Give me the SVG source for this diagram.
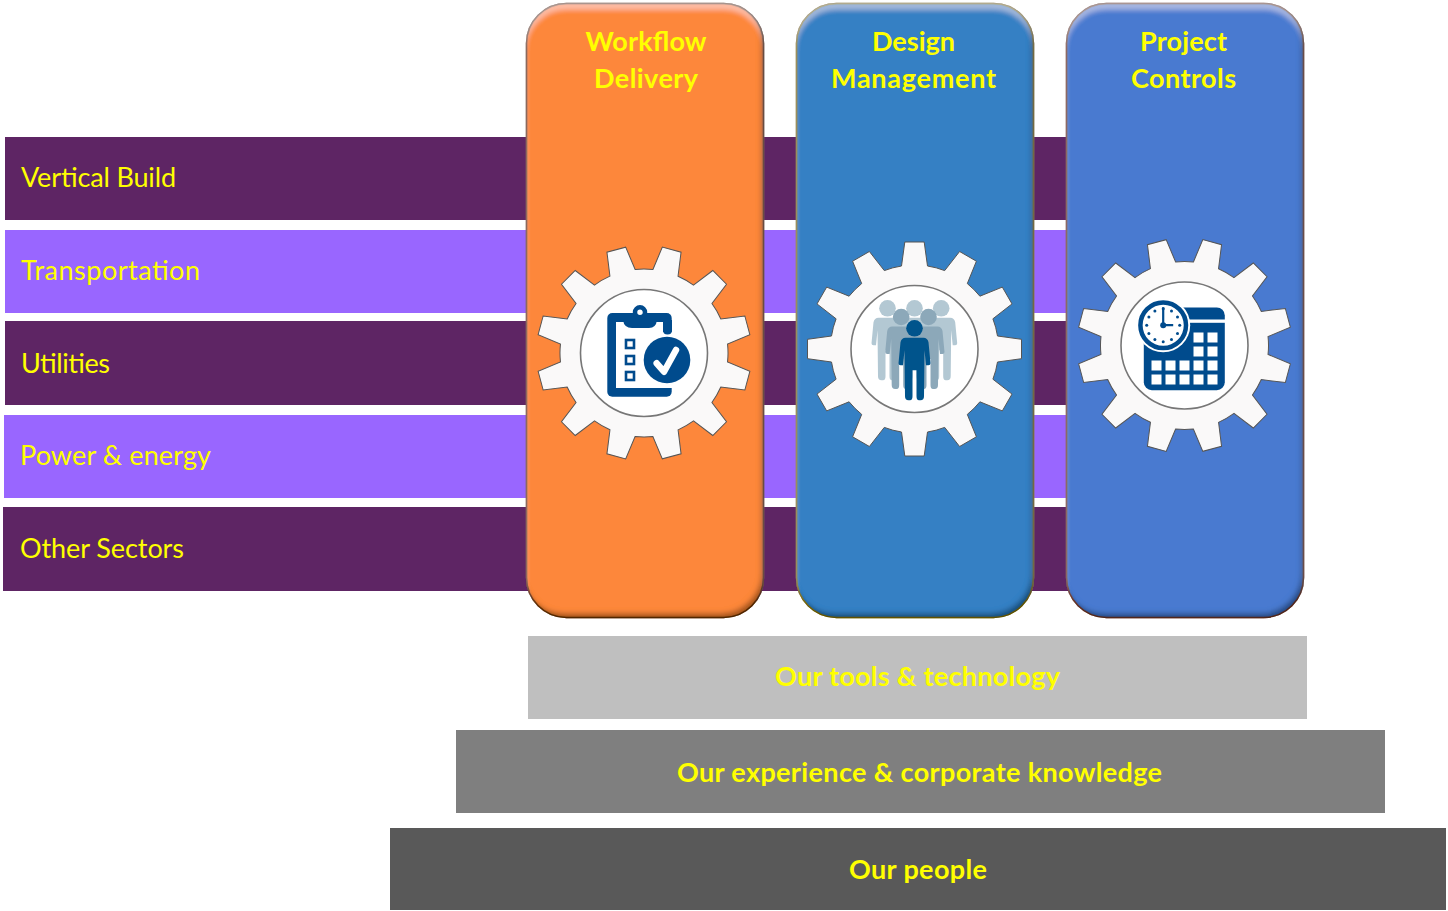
<svg xmlns="http://www.w3.org/2000/svg" xmlns:xlink="http://www.w3.org/1999/xlink" width="1448" height="911" viewBox="0 0 1448 911">
<style>
.lbl{font-family:"Lato","Liberation Sans",sans-serif;fill:#FFFF00;font-size:27px}
.ttl{font-family:"Lato","Liberation Sans",sans-serif;fill:#FFFF00;font-size:27px;font-weight:700;text-anchor:middle}
.dk{fill:#5E2564}.lt{fill:#9966FF}
.gear{fill:#FAF9F9;stroke:#555;stroke-width:1}
.hub{fill:#fff;stroke:#777;stroke-width:1.6}
.ib{fill:#004B8D}
.w{fill:#fff}
</style>
<defs>
<filter id="bevel" x="-5%" y="-5%" width="110%" height="110%">
<feGaussianBlur in="SourceAlpha" stdDeviation="2.5" result="b"/>
<feOffset in="b" dx="-3" dy="-5" result="o1"/>
<feComposite in="SourceAlpha" in2="o1" operator="out" result="e1"/>
<feFlood flood-color="#000" flood-opacity=".6"/>
<feComposite in2="e1" operator="in" result="dark"/>
<feGaussianBlur in="SourceAlpha" stdDeviation="1.5" result="b2"/>
<feComposite in="SourceAlpha" in2="b2" operator="out" result="e3"/>
<feFlood flood-color="#000" flood-opacity=".7"/>
<feComposite in2="e3" operator="in" result="rim"/>
<feOffset in="b" dx="0" dy="7" result="o2"/>
<feComposite in="SourceAlpha" in2="o2" operator="out" result="e2"/>
<feFlood flood-color="#fff" flood-opacity=".35"/>
<feComposite in2="e2" operator="in" result="light"/>
<feMerge><feMergeNode in="SourceGraphic"/><feMergeNode in="light"/><feMergeNode in="dark"/><feMergeNode in="rim"/></feMerge>
</filter>
<path id="cog" class="gear" d="M-13,-83 L-9.7,-107 L9.7,-107 L13,-83 A84 84 0 0 1 30.2,-78.4 L45.1,-97.5 L61.9,-87.8 L52.8,-65.4 A84 84 0 0 1 65.4,-52.8 L87.8,-61.9 L97.5,-45.1 L78.4,-30.2 A84 84 0 0 1 83,-13 L107,-9.7 L107,9.7 L83,13 A84 84 0 0 1 78.4,30.2 L97.5,45.1 L87.8,61.9 L65.4,52.8 A84 84 0 0 1 52.8,65.4 L61.9,87.8 L45.1,97.5 L30.2,78.4 A84 84 0 0 1 13,83 L9.7,107 L-9.7,107 L-13,83 A84 84 0 0 1 -30.2,78.4 L-45.1,97.5 L-61.9,87.8 L-52.8,65.4 A84 84 0 0 1 -65.4,52.8 L-87.8,61.9 L-97.5,45.1 L-78.4,30.2 A84 84 0 0 1 -83,13 L-107,9.7 L-107,-9.7 L-83,-13 A84 84 0 0 1 -78.4,-30.2 L-97.5,-45.1 L-87.8,-61.9 L-65.4,-52.8 A84 84 0 0 1 -52.8,-65.4 L-61.9,-87.8 L-45.1,-97.5 L-30.2,-78.4 A84 84 0 0 1 -13,-83 Z"/>
<g id="person"><circle r="8.3"/><path d="M-9,9.5 H9 Q13,9.5 14,14 L16,35 Q16,37 14,37 L11.5,37 L10,22 L9.5,68 Q9.5,72 6,72 H4.5 Q2,72 2,68 V42 H-2 V68 Q-2,72 -4.500,72 H-6 Q-9.5,72 -9.5,68 L-10,22 L-11.5,37 H-14 Q-16,37 -16,35 L-14,14 Q-13,9.5 -9,9.5Z"/></g>
</defs>

<g id="band-vertical-build"><rect class="dk" x="5" y="137" width="1065" height="83"/><text class="lbl" x="21" y="187" textLength="155">Vertical Build</text></g>
<g id="band-transportation"><rect class="lt" x="5" y="230" width="1065" height="83"/><text class="lbl" x="21" y="280" textLength="179">Transportation</text></g>
<g id="band-utilities"><rect class="dk" x="5" y="321" width="1065" height="84"/><text class="lbl" x="21" y="373" textLength="89">Utilities</text></g>
<g id="band-power"><rect class="lt" x="4" y="415" width="1066" height="83"/><text class="lbl" x="20" y="465" textLength="191">Power &amp; energy</text></g>
<g id="band-other"><rect class="dk" x="3" y="507" width="1067" height="84"/><text class="lbl" x="20" y="558" textLength="164">Other Sectors</text></g>

<g id="column-workflow">
<rect x="526.500" y="3.500" width="237" height="614" rx="40" fill="#FD873B" stroke="#8A4A1C" stroke-width="1.500" filter="url(#bevel)"/>
<text class="ttl" x="646" y="51" textLength="121">Workflow</text>
<text class="ttl" x="646" y="88" textLength="104">Delivery</text>
<g transform="translate(644,353)">
<use xlink:href="#cog" href="#cog" transform="rotate(15)"/>
<circle class="hub" r="63.500"/>
<rect class="ib" x="-36.700" y="-40" width="64.400" height="83.700" rx="5"/>
<path class="w" d="M-28,-31 H19 V-21 H28 V35 H-28Z"/>
<path class="ib" d="M-21,-33 Q-20,-25 -12,-25 H5 Q12,-25 13,-33Z"/>
<path d="M19,-33 H28 V-23 Q28,-18.500 23.500,-18.500 Q19,-18.500 19,-23Z" class="ib"/>
<circle cx="-4" cy="-40.700" r="5" class="w" stroke="#004B8D" stroke-width="4.500"/>
<rect x="-18" y="-13" width="8" height="8" fill="#fff" stroke="#004B8D" stroke-width="2.600"/>
<rect x="-18" y="3" width="8" height="8" fill="#fff" stroke="#004B8D" stroke-width="2.600"/>
<rect x="-18" y="19" width="8" height="8" fill="#fff" stroke="#004B8D" stroke-width="2.600"/>
<circle class="ib" cx="23" cy="7" r="23.300"/>
<polyline points="12.700,10.300 20,18.700 32,-3" fill="none" stroke="#fff" stroke-width="6.500" stroke-linecap="round" stroke-linejoin="round"/>
</g>
</g>

<g id="column-design">
<rect x="796.500" y="3.500" width="237" height="614" rx="40" fill="#3580C4" stroke="#A08C1E" stroke-width="1.500" filter="url(#bevel)"/>
<text class="ttl" x="913.500" y="51" textLength="83">Design</text>
<text class="ttl" x="913.500" y="88" textLength="165">Management</text>
<g transform="translate(914.500,349)">
<use xlink:href="#cog" href="#cog"/>
<circle class="hub" r="63.500"/>
<g fill="#B3C8D3"><use xlink:href="#person" href="#person" x="-27" y="-40.700"/><use xlink:href="#person" href="#person" x="0" y="-40.700"/><use xlink:href="#person" href="#person" x="26.700" y="-40.700"/></g>
<g fill="#8CA8B9"><use xlink:href="#person" href="#person" x="-13.300" y="-32"/><use xlink:href="#person" href="#person" x="14" y="-32"/></g>
<g fill="#00548C"><use xlink:href="#person" href="#person" x="0" y="-20.700"/></g>
</g>
</g>

<g id="column-project">
<rect x="1066.500" y="3.500" width="237" height="614" rx="40" fill="#4A7AD0" stroke="#8A4A3A" stroke-width="1.500" filter="url(#bevel)"/>
<text class="ttl" x="1183.500" y="51" textLength="87">Project</text>
<text class="ttl" x="1183.500" y="88" textLength="105">Controls</text>
<g transform="translate(1184.500,345.500)">
<use xlink:href="#cog" href="#cog" transform="rotate(15)"/>
<circle class="hub" r="63.500"/>
<rect class="ib" x="-40.700" y="-38" width="81" height="82.700" rx="8"/>
<rect class="w" x="-7" y="-26" width="48" height="3.300"/>
<g class="w">
<rect x="9" y="-13" width="10" height="10"/><rect x="23" y="-13" width="10" height="10"/>
<rect x="9" y="1" width="10" height="10"/><rect x="23" y="1" width="10" height="10"/>
<rect x="-33" y="15" width="10" height="10"/><rect x="-19" y="15" width="10" height="10"/><rect x="-5" y="15" width="10" height="10"/><rect x="9" y="15" width="10" height="10"/><rect x="23" y="15" width="10" height="10"/>
<rect x="-33" y="29" width="10" height="10"/><rect x="-19" y="29" width="10" height="10"/><rect x="-5" y="29" width="10" height="10"/><rect x="9" y="29" width="10" height="10"/><rect x="23" y="29" width="10" height="10"/>
</g>
<circle cx="-21.300" cy="-20.300" r="27" fill="#fff"/>
<circle cx="-21.300" cy="-20.300" r="22.800" fill="#fff" stroke="#004B8D" stroke-width="4.500"/>
<g transform="translate(-21.300,-20.300)" class="ib">
<circle cy="-16.500" r="1.500"/><circle cx="8.300" cy="-14.300" r="1.500"/><circle cx="14.300" cy="-8.300" r="1.500"/><circle cx="16.500" r="1.500"/><circle cx="14.300" cy="8.300" r="1.500"/><circle cx="8.300" cy="14.300" r="1.500"/><circle cy="16.500" r="1.500"/><circle cx="-8.300" cy="14.300" r="1.500"/><circle cx="-14.300" cy="8.300" r="1.500"/><circle cx="-16.500" r="1.500"/><circle cx="-14.300" cy="-8.300" r="1.500"/><circle cx="-8.300" cy="-14.300" r="1.500"/>
<circle r="3"/>
<path d="M0,-18 V0 H10" fill="none" stroke="#004B8D" stroke-width="2.200"/>
</g>
</g>
</g>

<g id="layer-tools"><rect x="528" y="636" width="779" height="83" fill="#BFBFBF"/><text class="ttl" x="917.500" y="686" textLength="285">Our tools &amp; technology</text></g>
<g id="layer-experience"><rect x="456" y="730" width="929" height="83" fill="#7F7F7F"/><text class="ttl" x="919.500" y="782" textLength="485">Our experience &amp; corporate knowledge</text></g>
<g id="layer-people"><rect x="390" y="828" width="1056" height="82" fill="#595959"/><text class="ttl" x="918" y="879" textLength="138">Our people</text></g>
<g id="connectors"/>
</svg>
